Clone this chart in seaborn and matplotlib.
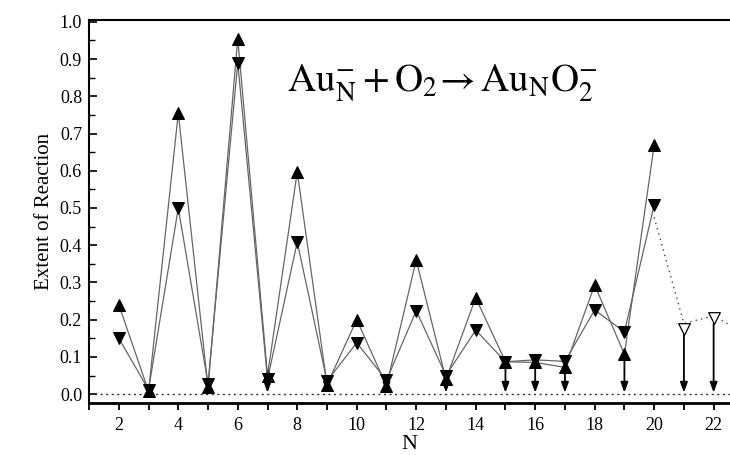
import matplotlib
matplotlib.use("Agg")
import matplotlib.pyplot as plt
import seaborn as sns
import numpy as np
import pandas as pd

# ---- data ----
n_vals = [2, 3, 4, 5, 6, 7, 8, 9, 10, 11, 12, 13, 14, 15, 16, 17, 18, 19, 20]
up_vals = [0.24, 0.008, 0.755, 0.018, 0.955, 0.05, 0.597, 0.025, 0.20, 0.022,
           0.36, 0.04, 0.259, 0.087, 0.085, 0.072, 0.293, 0.107, 0.669]
down_vals = [0.15, 0.012, 0.50, 0.028, 0.89, 0.04, 0.409, 0.035, 0.138, 0.037,
             0.224, 0.05, 0.172, 0.087, 0.092, 0.088, 0.226, 0.167, 0.508]
open_n = [21, 22]
open_vals = [0.175, 0.204]
dotted_n = [20, 21, 22, 23]
dotted_vals = [0.475, 0.19, 0.21, 0.165]
arrow_n = [7, 9, 11, 13, 15, 16, 17, 19, 21, 22]
arrow_from = [0.035, 0.025, 0.018, 0.035, 0.075, 0.075, 0.062, 0.095, 0.16, 0.19]
x_ticks = [2, 4, 6, 8, 10, 12, 14, 16, 18, 20, 22]
y_ticks = [0.0, 0.1, 0.2, 0.3, 0.4, 0.5, 0.6, 0.7, 0.8, 0.9, 1.0]

sns.set_style("white")
plt.rcParams['font.family'] = ['Liberation Serif', 'DejaVu Serif']
plt.rcParams['mathtext.fontset'] = 'stix'
plt.rcParams['text.color'] = 'black'
plt.rcParams['axes.labelcolor'] = 'black'
plt.rcParams['xtick.color'] = 'black'
plt.rcParams['ytick.color'] = 'black'

fig = plt.figure(figsize=(7.3, 4.55), dpi=100)
ax = fig.add_axes([0.122, 0.115, 0.878, 0.841])

df = pd.DataFrame({"N": n_vals, "up": up_vals, "down": down_vals})
line_col = "#666666"
sns.lineplot(data=df, x="N", y="up", ax=ax, color=line_col, lw=0.9,
             marker="^", markersize=8, markerfacecolor="black",
             markeredgecolor="black", zorder=3)
sns.lineplot(data=df, x="N", y="down", ax=ax, color=line_col, lw=0.9,
             marker="v", markersize=8, markerfacecolor="black",
             markeredgecolor="black", zorder=3)

dd = pd.DataFrame({"N": dotted_n, "v": dotted_vals})
sns.lineplot(data=dd, x="N", y="v", ax=ax, color="#444444", lw=1.0,
             linestyle=(0, (1, 3)), zorder=2)
od = pd.DataFrame({"N": open_n, "v": open_vals})
sns.scatterplot(data=od, x="N", y="v", ax=ax, marker="v", s=70,
                facecolor="white", edgecolor="black", linewidth=0.9, zorder=4)

for xn, y0 in zip(arrow_n, arrow_from):
    ax.annotate("", xy=(xn, 0.004), xytext=(xn, y0),
                arrowprops=dict(arrowstyle="-|>,head_length=0.6,head_width=0.22",
                                color="black", lw=1.3, shrinkA=0, shrinkB=0),
                zorder=2)

ax.axhline(0, color="#333333", lw=1.0, linestyle=(0, (1.5, 2.5)), zorder=1)

ax.set_xlim(1.0, 22.55)
ax.set_ylim(-0.023, 1.005)
ax.set_xticks(x_ticks)
ax.set_xticks(range(1, 23), minor=True)
ax.set_yticks(y_ticks)
ax.set_yticks(np.arange(0.05, 1.0, 0.1), minor=True)
ax.set_yticklabels([f"{v:.1f}" for v in y_ticks])
ax.tick_params(axis="x", which="both", direction="out", length=5, width=1.3,
               labelsize=13, pad=5)
ax.tick_params(axis="y", which="major", direction="in", length=6, width=1.2,
               labelsize=13, pad=5)
ax.tick_params(axis="y", which="minor", direction="in", length=4, width=1.0)
ax.tick_params(bottom=True, left=True, which="both")

for s in ["left", "bottom", "top"]:
    ax.spines[s].set_color("black")
    ax.spines[s].set_linewidth(1.5)
ax.spines["bottom"].set_linewidth(2.0)
ax.spines["right"].set_visible(False)

ax.set_xlabel("N", fontsize=16, labelpad=1)
ax.set_ylabel("Extent of Reaction", fontsize=15, labelpad=4)

ax.text(0.552, 0.835,
        r"$\mathrm{Au}_{\mathrm{N}}^{-}+\mathrm{O}_2\!\rightarrow\mathrm{Au}_{\mathrm{N}}\mathrm{O}_2^{-}$",
        transform=ax.transAxes, fontsize=28, ha="center", va="center",
        color="black")

fig.savefig("out.png", dpi=100)
